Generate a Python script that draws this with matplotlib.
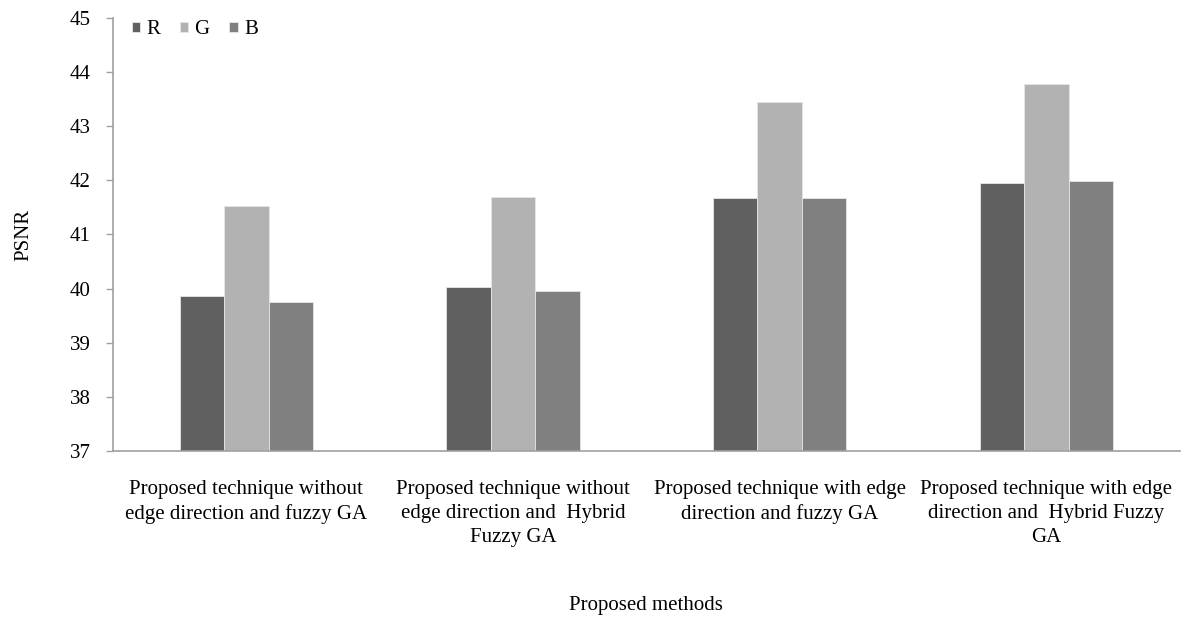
import matplotlib
matplotlib.use("Agg")
import matplotlib.pyplot as plt
import numpy as np

categories = [
    "Proposed technique without\nedge direction and fuzzy GA",
    "Proposed technique without\nedge direction and  Hybrid\nFuzzy GA",
    "Proposed technique with edge\ndirection and fuzzy GA",
    "Proposed technique with edge\ndirection and  Hybrid Fuzzy\nGA",
]
series_names = ["R", "G", "B"]
R_vals = [39.87, 40.03, 41.67, 41.95]
G_vals = [41.53, 41.70, 43.45, 43.77]
B_vals = [39.75, 39.95, 41.67, 41.98]
colors = ["#606060", "#b2b2b2", "#808080"]
yticks = [37, 38, 39, 40, 41, 42, 43, 44, 45]

plt.rcParams['font.family'] = ['Liberation Serif', 'DejaVu Serif']

fig = plt.figure(figsize=(11.82, 6.17), dpi=100)
ax = fig.add_axes([0.0956, 0.269, 0.9024, 0.702])

x = np.arange(len(categories))
w = 1/6
for i, (vals, c, n) in enumerate(zip([R_vals, G_vals, B_vals], colors, series_names)):
    ax.bar(x + (i - 1) * w, vals, width=w, bottom=0, color=c, edgecolor="#e6e6e6",
           linewidth=0.6, label=n)

ax.set_ylim(37, 45)
ax.set_xlim(-0.5, 3.5)
ax.set_yticks(yticks)
ax.set_yticklabels([str(t) for t in yticks], fontsize=15)
ax.set_xticks(x)
ax.set_xticklabels(categories, fontsize=15, linespacing=1.35)
ax.tick_params(axis='x', length=0, pad=21)
ax.tick_params(axis='y', length=5, width=1, color="#a0a0a0", pad=11, direction='out')
for s in ["top", "right"]:
    ax.spines[s].set_visible(False)
ax.spines["left"].set_color("#a0a0a0")
ax.spines["bottom"].set_color("#a0a0a0")
ax.spines["left"].set_linewidth(1.2)
ax.spines["bottom"].set_linewidth(1.2)

ax.set_ylabel("PSNR", fontsize=15)
ax.yaxis.set_label_coords(-0.075, 0.5)
ax.set_xlabel("Proposed methods", fontsize=15)
ax.xaxis.set_label_coords(0.5, -0.335)

leg = ax.legend(loc="upper left", bbox_to_anchor=(0.0096, 1.0135), borderaxespad=0,
                ncol=3, frameon=False,
                fontsize=15, handlelength=0.4, handleheight=0.4, handletextpad=0.3,
                columnspacing=0.95)

fig.savefig("out.png", dpi=100)
